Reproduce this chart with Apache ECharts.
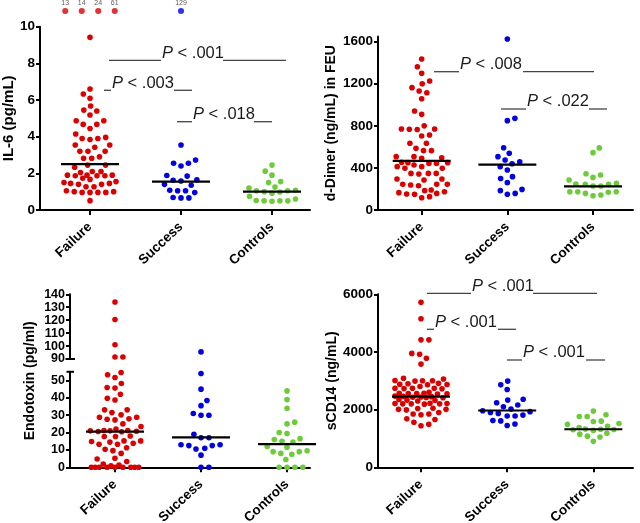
<!DOCTYPE html>
<html><head><meta charset="utf-8">
<script src="https://cdn.jsdelivr.net/npm/echarts@6/dist/echarts.min.js"></script>
<style>html,body{margin:0;padding:0;background:#fff}#c{width:640px;height:523px}</style>
</head><body><div id="c"></div>
<script>
// ---------------- DATA ----------------
const categories = ['Failure', 'Success', 'Controls'];

const il6Failure = [9.42, 6.6, 6.33, 6.1, 5.67, 5.45, 5.4, 5.18, 4.87, 4.87, 4.67, 4.67, 4.45, 4.15, 3.96, 3.9, 3.9, 3.85, 3.55, 3.55, 3.42, 3.2, 3.2, 3.2, 2.9, 2.82, 2.82, 2.45, 2.45, 2.33, 2.1, 2.1, 2.04, 1.9, 1.87, 1.87, 1.9, 1.87, 1.9, 1.73, 1.67, 1.4, 1.5, 1.55, 1.45, 1.45, 1.4, 1.27, 1.27, 0.96, 1.0, 0.96, 1.0, 0.96, 0.96, 1.05, 0.51];
const il6Success = [3.55, 2.73, 2.55, 2.55, 2.4, 1.88, 1.85, 1.65, 1.62, 1.58, 1.4, 1.35, 1.05, 1.05, 1.08, 0.95, 0.68, 0.66, 0.66];
const il6Controls = [2.45, 2.12, 1.9, 1.55, 1.5, 1.25, 1.2, 1.08, 1.05, 1.05, 1.0, 0.98, 0.92, 0.75, 0.6, 0.52, 0.5, 0.5, 0.48, 0.5];
const il6Medians = [2.5, 1.55, 1.0];
const il6FailureOffscale = [13, 14, 24, 61];
const il6SuccessOffscale = [129];
const il6PValues = ['.001', '.003', '.018'];

const ddimerFailure = [1435, 1362, 1299, 1226, 1200, 1163, 1131, 1115, 1058, 941, 909, 800, 770, 765, 767, 770, 713, 703, 634, 634, 586, 564, 564, 507, 507, 497, 491, 453, 450, 450, 443, 443, 428, 412, 412, 396, 396, 348, 348, 342, 348, 295, 295, 285, 244, 244, 244, 238, 231, 190, 184, 174, 165, 158, 152, 149, 127, 117];
const ddimerSuccess = [1625, 871, 849, 592, 539, 507, 475, 459, 440, 412, 380, 317, 300, 260, 196, 184, 158, 149];
const ddimerControls = [590, 545, 345, 333, 310, 285, 253, 247, 244, 244, 228, 228, 174, 174, 174, 168, 158, 143, 136];
const ddimerMedians = [466, 432, 224];
const ddimerPValues = ['.008', '.022'];

const endotoxinFailure = [134, 120.5, 101, 91.5, 91.5, 54.6, 53.3, 51.7, 48.3, 45.6, 46, 42.1, 39.8, 38.8, 33.1, 33.1, 31.5, 30.2, 28.8, 28.8, 27.7, 27.3, 27.9, 25, 23.5, 22.1, 21.2, 21, 20.8, 20.5, 21, 20.6, 21.2, 17.7, 17.7, 18, 15.2, 15.2, 14.8, 14.5, 13.3, 13.3, 13.8, 11.3, 10.4, 9.6, 8, 5.2, 4.8, 1.9, 3.3, 1.3, 0.8, 0, 0, 0, 0, 0, 0, 0, 0, 0];
const endotoxinSuccess = [95.5, 54, 45, 38.5, 35.5, 31, 30, 30, 19, 17, 17, 13, 12.5, 12.5, 13, 10.5, 11, 7, 0, 0];
const endotoxinControls = [44, 39, 34, 26, 25, 20, 19.5, 16.5, 16, 15, 14.5, 12, 11.5, 9.5, 9, 9, 8, 7.5, 4.5, 0, 0, 0, 0];
const endotoxinMedians = [20.6, 17.2, 13.3];

const scd14Failure = [5720, 5150, 4420, 4420, 3950, 3920, 3780, 3580, 3090, 3060, 3010, 3000, 2990, 3000, 2910, 2880, 2870, 2900, 2860, 2800, 2740, 2730, 2720, 2740, 2740, 2600, 2570, 2570, 2560, 2550, 2540, 2560, 2470, 2440, 2430, 2420, 2450, 2460, 2410, 2350, 2330, 2300, 2320, 2220, 2210, 2200, 2200, 2190, 2210, 2200, 2050, 2040, 2010, 1990, 2010, 1900, 1850, 1820, 1850, 1680, 1660, 1560, 1490, 1440];
const scd14Success = [2990, 2860, 2700, 2360, 2330, 2240, 2160, 2100, 2020, 1960, 1930, 1900, 1870, 1810, 1780, 1780, 1620, 1610, 1500, 1450];
const scd14Controls = [1950, 1820, 1760, 1760, 1600, 1590, 1520, 1490, 1420, 1380, 1330, 1320, 1310, 1300, 1280, 1180, 1150, 1080, 1050, 900];
const scd14Medians = [2450, 1970, 1320];
const scd14PValues = ['.001', '.001', '.001'];

// ---------------- STYLE / LAYOUT ----------------
const FONT = '"Liberation Sans", Arial, Helvetica, sans-serif';
const groupColors = ['#da0000', '#0000e2', '#6dcb3a'];
const DOT = 5.6, GAP = 7.9, MAXHALF = 26, MEDHALF = 29;

function swarmOffsets(vals, pxPerY, d, maxHalf) {
  const order = vals.map((v, i) => i).sort((a, b) => vals[a] - vals[b]);
  const placed = [];
  const out = new Array(vals.length).fill(0);
  let side = 1;
  for (const i of order) {
    const y = vals[i] * pxPerY;
    const cands = [0];
    for (const p of placed) {
      const dy = Math.abs(p.y - y);
      if (dy < d) { const dx = Math.sqrt(d * d - dy * dy); cands.push(p.x + dx, p.x - dx); }
    }
    cands.sort((a, b) => {
      const da = Math.abs(a) - Math.abs(b);
      if (Math.abs(da) > 1e-6) return da;
      return side > 0 ? b - a : a - b;
    });
    let best = null;
    for (const c of cands) {
      if (Math.abs(c) > maxHalf + 1e-6) break;
      let ok = true;
      for (const p of placed) { if ((p.x - c) ** 2 + (p.y - y) ** 2 < d * d - 1e-6) { ok = false; break; } }
      if (ok) { best = c; break; }
    }
    if (best === null) {
      let bestScore = -1; best = 0;
      for (let c = -maxHalf; c <= maxHalf + 1e-6; c += 0.25) {
        let m = Infinity;
        for (const p of placed) m = Math.min(m, Math.hypot(p.x - c, p.y - y));
        if (m > bestScore + 1e-6) { bestScore = m; best = c; }
      }
    }
    if (Math.abs(best) > 1e-6) side = -Math.sign(best);
    placed.push({ x: best, y });
    out[i] = best;
  }
  return out;
}

const grids = [], xAxes = [], yAxes = [], series = [];

function addCartesian(rect, xr, yr, interval, o) {
  const gi = grids.length;
  grids.push(Object.assign({ containLabel: false, outerBoundsMode: 'none' }, rect));
  const showX = !!o.showX;
  xAxes.push({
    type: 'value', gridIndex: gi, min: xr[0], max: xr[1], show: showX,
    axisLine: { show: showX, onZero: false, lineStyle: { color: '#000', width: 2 } },
    axisTick: { show: showX, customValues: [1, 2, 3], length: 5, lineStyle: { color: '#000', width: 2 } },
    axisLabel: { show: showX, customValues: [1, 2, 3], rotate: 43, margin: 15, fontSize: 13.5, fontWeight: 'bold', color: '#000', fontFamily: FONT,
      formatter: v => categories[Math.round(v) - 1] || '' },
    splitLine: { show: false }
  });
  const showY = o.showY !== false;
  yAxes.push({
    type: 'value', gridIndex: gi, min: yr[0], max: yr[1], interval: interval,
    axisLine: { show: showY, onZero: false, lineStyle: { color: '#000', width: 2 } },
    axisTick: { show: showY, length: 4, lineStyle: { color: '#000', width: 2 } },
    axisLabel: { show: showY, fontSize: o.labelSize || 13.5, fontWeight: 'bold', color: '#000', fontFamily: FONT, margin: 5,
      showMaxLabel: !o.hideMax, showMinLabel: true, hideOverlap: false, formatter: v => String(v) },
    splitLine: { show: false },
    name: o.name || '', nameLocation: 'middle', nameRotate: 90, nameGap: o.nameGap || 20,
    nameTextStyle: { fontSize: o.nameSize || 14, fontWeight: 'bold', color: '#000', fontFamily: FONT }
  });
  return gi;
}

function addGroups(gi, rect, xr, yr, groups, filter) {
  const pxX = rect.width / (xr[1] - xr[0]);
  const pxY = rect.height / (yr[1] - yr[0]);
  groups.forEach((vals, ci) => {
    const v = vals.filter(filter);
    const off = swarmOffsets(v, pxY, GAP, MAXHALF);
    series.push({
      type: 'scatter', xAxisIndex: gi, yAxisIndex: gi, symbol: 'circle', symbolSize: DOT, silent: true, z: 2,
      itemStyle: { color: groupColors[ci], opacity: 1 },
      data: v.map((y, k) => [ci + 1 + off[k] / pxX, y])
    });
  });
}

function addMedians(gi, rect, xr, medians) {
  const hw = MEDHALF / (rect.width / (xr[1] - xr[0]));
  series.push({
    type: 'custom', xAxisIndex: gi, yAxisIndex: gi, silent: true, z: 5,
    data: medians.map((m, i) => [i + 1, m]),
    renderItem: (params, api) => {
      const x = api.value(0), y = api.value(1);
      const a = api.coord([x - hw, y]), b = api.coord([x + hw, y]);
      return { type: 'line', shape: { x1: a[0], y1: a[1], x2: b[0], y2: b[1] }, style: { stroke: '#000', lineWidth: 2.2 } };
    }
  });
}

// Panel 1: IL-6
const p1 = { rect: { left: 40, top: 26.7, width: 270, height: 183.3 }, xr: [0.4505, 3.4176], yr: [0, 10] };
let g = addCartesian(p1.rect, p1.xr, p1.yr, 2, { showX: true, name: 'IL-6 (pg/mL)', nameGap: 24, nameSize: 15 });
addGroups(g, p1.rect, p1.xr, p1.yr, [il6Failure, il6Success, il6Controls], () => true);
addMedians(g, p1.rect, p1.xr, il6Medians);

// off-scale strip above panel 1
const strip = { rect: { left: 40, top: 6, width: 270, height: 10 }, yr: [0, 1] };
g = addCartesian(strip.rect, p1.xr, strip.yr, 1, { showX: false, showY: false });
yAxes[g].show = false;
const stripPx = p1.rect.width / (p1.xr[1] - p1.xr[0]);
[il6FailureOffscale, il6SuccessOffscale].forEach((vals, ci) => {
  series.push({
    type: 'scatter', xAxisIndex: g, yAxisIndex: g, symbolSize: DOT + 0.5, silent: true,
    itemStyle: { color: groupColors[ci] },
    label: { show: true, position: 'top', distance: 1.5, fontSize: 7, color: '#333', fontFamily: FONT, formatter: p => p.value[2] },
    data: vals.map((v, k) => [ci + 1 + (k - (vals.length - 1) / 2) * 16.5 / stripPx, 0.5, v])
  });
});

// Panel 2: d-Dimer
const p2 = { rect: { left: 378, top: 36.4, width: 255, height: 173.6 }, xr: [0.49, 3.467], yr: [0, 1650] };
g = addCartesian(p2.rect, p2.xr, p2.yr, 400, { showX: true, name: 'd-Dimer (ng/mL) in FEU', nameGap: 40, nameSize: 14, hideMax: true });
addGroups(g, p2.rect, p2.xr, p2.yr, [ddimerFailure, ddimerSuccess, ddimerControls], () => true);
addMedians(g, p2.rect, p2.xr, ddimerMedians);

// Panel 3: Endotoxin (broken axis)
const p3x = [0.477, 3.267];
const p3up = { rect: { left: 70, top: 294.3, width: 240, height: 64.7 }, yr: [90, 140] };
const p3lo = { rect: { left: 70, top: 371.8, width: 240, height: 95.5 }, yr: [0, 55] };
g = addCartesian(p3up.rect, p3x, p3up.yr, 10, { showX: false, labelSize: 12.5 });
addGroups(g, p3up.rect, p3x, p3up.yr, [endotoxinFailure, endotoxinSuccess, endotoxinControls], v => v >= 90);
g = addCartesian(p3lo.rect, p3x, p3lo.yr, 10, { showX: true, hideMax: true, labelSize: 12.5 });
addGroups(g, p3lo.rect, p3x, p3lo.yr, [endotoxinFailure, endotoxinSuccess, endotoxinControls], v => v <= 55);
addMedians(g, p3lo.rect, p3x, endotoxinMedians);
g = addCartesian({ left: 70, top: 294.3, width: 240, height: 173 }, p3x, [0, 1], 1,
  { showX: false, showY: false, name: 'Endotoxin (pg/ml)', nameGap: 33, nameSize: 14 });

// Panel 4: sCD14
const p4 = { rect: { left: 378, top: 294.3, width: 255, height: 173 }, xr: [0.501, 3.46], yr: [0, 6000] };
g = addCartesian(p4.rect, p4.xr, p4.yr, 2000, { showX: true, name: 'sCD14 (ng/mL)', nameGap: 39, nameSize: 14 });
addGroups(g, p4.rect, p4.xr, p4.yr, [scd14Failure, scd14Success, scd14Controls], () => true);
addMedians(g, p4.rect, p4.xr, scd14Medians);

// ---------------- ANNOTATIONS ----------------
const PFS = 16.5;
function pAnnot(y, left, textX, right, pv) {
  const els = [];
  els.push({ type: 'line', silent: true, shape: { x1: left[0], y1: y, x2: left[1], y2: y }, style: { stroke: '#444', lineWidth: 1.3 } });
  els.push({ type: 'line', silent: true, shape: { x1: right[0], y1: y, x2: right[1], y2: y }, style: { stroke: '#444', lineWidth: 1.3 } });
  els.push({ type: 'text', silent: true, x: textX, y: y - 7.2,
    style: { text: '{i|P} < ' + pv, fill: '#1a1a1a', font: PFS + 'px ' + FONT, verticalAlign: 'middle', align: 'left',
      rich: { i: { fontStyle: 'italic', fontSize: PFS, fontFamily: FONT, fill: '#1a1a1a' } } } });
  return els;
}
const graphics = [].concat(
  pAnnot(60.3, [109, 161], 162, [223, 286], il6PValues[0]),
  pAnnot(90.3, [104, 111], 112, [174, 192], il6PValues[1]),
  pAnnot(121.7, [177, 192], 193, [254, 272], il6PValues[2]),
  pAnnot(71.7, [434, 459], 460, [523, 594], ddimerPValues[0]),
  pAnnot(109, [501, 526], 527, [589, 607], ddimerPValues[1]),
  pAnnot(293.3, [427, 471], 472, [533, 597], scd14PValues[0]),
  pAnnot(329.3, [427, 434], 435, [498, 516], scd14PValues[1]),
  pAnnot(360, [507, 522], 523, [586, 605], scd14PValues[2])
);
// broken-axis caps
const capUpY = p3up.rect.top + p3up.rect.height, capLoY = p3lo.rect.top;
graphics.push({ type: 'line', silent: true, shape: { x1: 65.5, y1: capUpY, x2: 75, y2: capUpY }, style: { stroke: '#000', lineWidth: 2 } });
graphics.push({ type: 'line', silent: true, shape: { x1: 66.5, y1: capLoY, x2: 74, y2: capLoY }, style: { stroke: '#000', lineWidth: 2 } });

const chart = echarts.init(document.getElementById('c'), null, { renderer: 'canvas' });
chart.setOption({
  animation: false,
  backgroundColor: '#fff',
  textStyle: { fontFamily: FONT },
  grid: grids, xAxis: xAxes, yAxis: yAxes, series: series,
  graphic: graphics
});
</script></body></html>
